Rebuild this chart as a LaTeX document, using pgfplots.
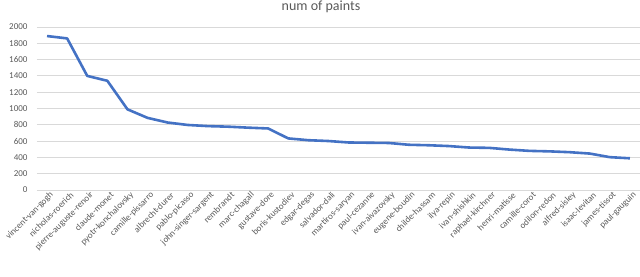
\documentclass[border=0pt]{standalone}
\usepackage{pgfplots}
\pgfplotsset{compat=1.18}
\usepackage{fontspec}
\setmainfont{Carlito}
\definecolor{txt}{HTML}{595959}
\definecolor{gridc}{HTML}{D9D9D9}
\definecolor{xlblue}{HTML}{4472C4}
\begin{document}
\begin{tikzpicture}[x=1pt,y=1pt]
\path[use as bounding box] (0,0) rectangle (640,276);
\begin{axis}[
  at={(37pt,86pt)}, anchor=south west,
  scale only axis, width=603pt, height=163pt,
  xmin=-0.5, xmax=29.5, ymin=0, ymax=2000,
  ytick={0,200,...,2000},
  xtick={0,...,29},
  xticklabels={vincent-van-gogh,nicholas-roerich,pierre-auguste-renoir,claude-monet,pyotr-konchalovsky,camille-pissarro,albrecht-durer,pablo-picasso,john-singer-sargent,rembrandt,marc-chagall,gustave-dore,boris-kustodiev,edgar-degas,salvador-dali,martiros-saryan,paul-cezanne,ivan-aivazovsky,eugene-boudin,childe-hassam,ilya-repin,ivan-shishkin,raphael-kirchner,henri-matisse,camille-corot,odilon-redon,alfred-sisley,isaac-levitan,james-tissot,paul-gauguin},
  ymajorgrids, grid style={gridc, line width=0.9pt},
  axis line style={draw=none},
  major tick length=0pt,
  /pgf/number format/assume math mode=true,
  /pgf/number format/1000 sep={},
  tick label style={font=\fontsize{9}{10}\selectfont, text=txt},
  yticklabel style={xshift=-6pt},
  xticklabel style={rotate=45, anchor=east, inner sep=1pt, yshift=-6pt, xshift=2pt},
  title={num of paints},
  every axis title shift=0pt,
  title style={font=\fontsize{14}{16}\selectfont, text=txt, anchor=base, at={(0.5,1)}, yshift=17pt, xshift=-17.5pt},
]
\addplot[xlblue, line width=2.6pt, line join=round, mark=none] coordinates {
(0,1889) (1,1860) (2,1400) (3,1340) (4,990) (5,885) (6,828) (7,798) (8,784) (9,777)
(10,765) (11,755) (12,633) (13,611) (14,601) (15,583) (16,580) (17,577) (18,555) (19,549)
(20,539) (21,521) (22,517) (23,496) (24,480) (25,474) (26,464) (27,447) (28,403) (29,389)
};
\end{axis}
\end{tikzpicture}
\end{document}
